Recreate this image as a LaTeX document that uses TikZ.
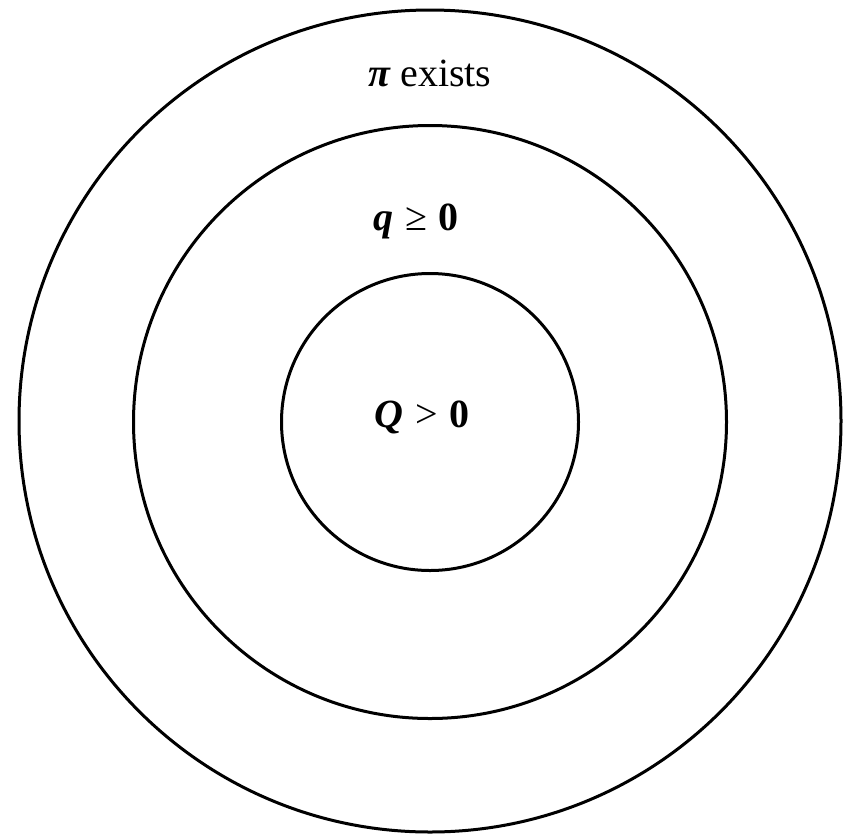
\documentclass[tikz,border=0pt]{standalone}
\usepackage{fontspec}
\setmainfont{Liberation Serif}
\usepackage{tikz}

\tikzset{
  ring/.style = {draw, circle, line width=3pt, inner sep=0pt},
  cond/.style = {font=\fontsize{40}{42}\selectfont, inner sep=0pt, anchor=base}
}
\newcommand{\relgap}{\hspace{0.3em}}

\begin{document}
\begin{tikzpicture}[x=1pt, y=-1pt]
				\useasboundingbox (0,0) rectangle (843,836);
				\node (outer) [ring, minimum size=822pt] at (430,421) {};
				\node (middle) [ring, minimum size=593pt] at (430,422) {};
				\node (inner) [ring, minimum size=297pt] at (430,422) {};

				\node (exists) [cond] at (430,86) {{\bfseries\itshape π} exists};
				\node (nonneg) [cond] at (416,230) {{\bfseries\itshape q}\relgap≥\relgap{\bfseries 0}};
				\node (positive) [cond] at (422,427) {{\bfseries\itshape Q}\relgap>\relgap{\bfseries 0}};
			\end{tikzpicture}
\end{document}
